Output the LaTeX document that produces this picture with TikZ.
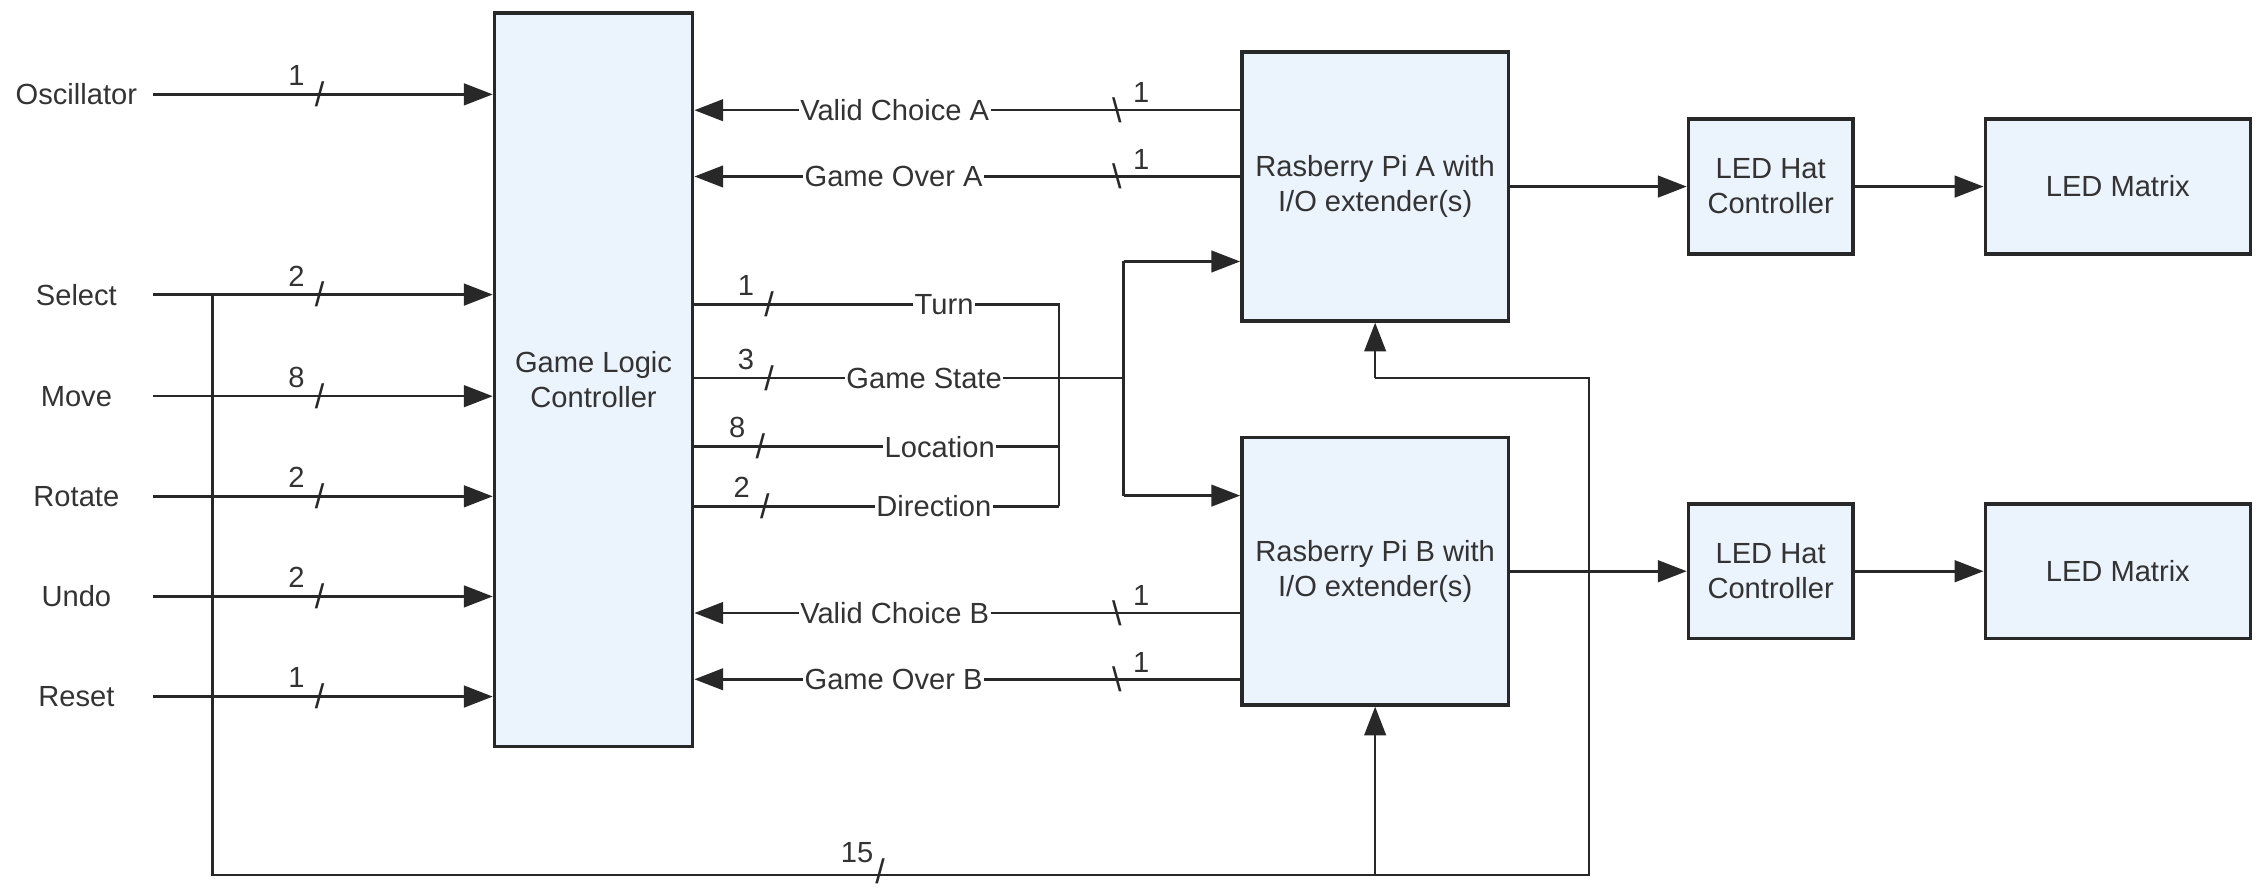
\documentclass[tikz,border=0pt]{standalone}
\usepackage{fontspec}
\setmainfont{Liberation Sans}
\usepackage{tikz}
\usetikzlibrary{
    arrows.meta,
    positioning,
    calc
}
\usepackage{xcolor}
\definecolor{boxfill}{RGB}{235,243,252}
\definecolor{wire}{RGB}{40,40,40}
\definecolor{inkgray}{RGB}{51,51,51}
\newcommand{\lblfont}{\fontsize{11.5}{13.8}\selectfont}
\newcommand{\slfont}{\fontsize{13.5}{14}\selectfont}

\begin{document}
\begin{tikzpicture}[
    x=1cm, y=1cm,
    box/.style={
        rectangle, draw=wire, line width=1.4pt, fill=boxfill,
        text=inkgray, align=center, font=\lblfont, inner sep=2pt
    },
    inlbl/.style={minimum width=2.12cm, inner sep=0pt, text=inkgray, font=\lblfont},
    sig/.style={fill=white, inner sep=0.6pt, text=inkgray, font=\lblfont},
    busw/.style={inner sep=0pt, text=wire, font=\slfont,
        label={[inner sep=0pt, text=inkgray, font=\lblfont, xshift=-0.32cm, yshift=0.26cm]center:#1}},
    busr/.style={inner sep=0pt, text=wire, font=\slfont,
        label={[inner sep=0pt, text=inkgray, font=\lblfont, xshift=0.34cm, yshift=0.24cm]center:#1}},
    link/.style={line width=1pt, draw=wire},
    arrow/.style={link, -{Triangle[length=0.4cm, width=0.3cm]}}
]
\useasboundingbox (0,0) rectangle (31.36,12.32);

% Controller and Pi boards
\node[box, minimum width=2.75cm, minimum height=10.18cm] (glc) at (8.24, 7.05) {Game Logic\\Controller};
\node[box, minimum width=3.70cm, minimum height=3.73cm] (rpia) at (19.09, 9.73) {Rasberry Pi A with\\I/O extender(s)};
\node[box, minimum width=3.70cm, minimum height=3.71cm] (rpib) at (19.09, 4.39) {Rasberry Pi B with\\I/O extender(s)};

% LED chains
\node[box, minimum width=2.28cm, minimum height=1.87cm] (hata) at (24.58, 9.73) {LED Hat\\Controller};
\node[box, minimum width=3.68cm, minimum height=1.87cm] (mata) at (29.40, 9.73) {LED Matrix};
\node[box, minimum width=2.28cm, minimum height=1.87cm] (hatb) at (24.58, 4.39) {LED Hat\\Controller};
\node[box, minimum width=3.68cm, minimum height=1.87cm] (matb) at (29.40, 4.39) {LED Matrix};

% Inputs
\node[inlbl] (osc) at (1.06, 11.01) {Oscillator};
\node[inlbl] (sel) at (1.06, 8.23) {Select};
\node[inlbl] (mov) at (1.06, 6.82) {Move};
\node[inlbl] (rot) at (1.06, 5.43) {Rotate};
\node[inlbl] (und) at (1.06, 4.04) {Undo};
\node[inlbl] (rst) at (1.06, 2.65) {Reset};

% Input arrows
\draw[arrow] (osc.east) -- node[busw=1, pos=0.49] {/} (glc.west |- osc.east);
\draw[arrow] (sel.east) -- node[busw=2, pos=0.49] {/} (glc.west |- sel.east);
\draw[arrow] (mov.east) -- node[busw=8, pos=0.49] {/} (glc.west |- mov.east);
\draw[arrow] (rot.east) -- node[busw=2, pos=0.49] {/} (glc.west |- rot.east);
\draw[arrow] (und.east) -- node[busw=2, pos=0.49] {/} (glc.west |- und.east);
\draw[arrow] (rst.east) -- node[busw=1, pos=0.49] {/} (glc.west |- rst.east);

% Game outputs to both Pis
\coordinate (turn) at (14.70, 8.09);
\coordinate (loc)  at (14.70, 6.12);
\coordinate (dir)  at (14.70, 5.29);
\coordinate (gs)   at (15.60, 7.07);
\coordinate (ina)  at (15.60, 8.69);
\coordinate (inb)  at (15.60, 5.44);

\draw[link] (glc.east |- turn) -- node[busw=1, pos=0.205] {/} node[sig, pos=0.685] {Turn} (turn) -- (dir);
\draw[link] (glc.east |- gs) -- node[busw=3, pos=0.174] {/} node[sig, pos=0.535] {Game State} (gs);
\draw[link] (glc.east |- loc) -- node[busw=8, pos=0.181] {/} node[sig, pos=0.673] {Location} (loc);
\draw[link] (glc.east |- dir) -- node[busw=2, pos=0.193] {/} node[sig, pos=0.657] {Direction} (dir);
\draw[link] (ina) -- (inb);
\draw[arrow] (ina) -- (rpia.west |- ina);
\draw[arrow] (inb) -- (rpib.west |- inb);

% Feedback from the Pis
\coordinate (vca) at (12, 10.79);
\coordinate (goa) at (12, 9.87);
\coordinate (vcb) at (12, 3.81);
\coordinate (gob) at (12, 2.89);

\draw[arrow] (rpia.west |- vca) -- node[busr=1, pos=0.226] {\textbackslash} node[sig, pos=0.633] {Valid Choice A} (glc.east |- vca);
\draw[arrow] (rpia.west |- goa) -- node[busr=1, pos=0.226] {\textbackslash} node[sig, pos=0.635] {Game Over A} (glc.east |- goa);
\draw[arrow] (rpib.west |- vcb) -- node[busr=1, pos=0.226] {\textbackslash} node[sig, pos=0.633] {Valid Choice B} (glc.east |- vcb);
\draw[arrow] (rpib.west |- gob) -- node[busr=1, pos=0.226] {\textbackslash} node[sig, pos=0.635] {Game Over B} (glc.east |- gob);

% Pis to LED chains
\draw[arrow] (rpia.east) -- (hata.west);
\draw[arrow] (hata.east) -- (mata.west);
\draw[arrow] (rpib.east) -- (hatb.west);
\draw[arrow] (hatb.east) -- (matb.west);

% 15-bit bus from the inputs
\coordinate (bsel) at (2.95, 8.23);
\coordinate (bbl)  at (2.95, 0.17);
\coordinate (bbr)  at (22.06, 0.17);
\coordinate (btr)  at (22.06, 7.07);

\draw[link] (bsel) -- (bbl) -- node[busw=15, pos=0.485, yshift=0.06cm] {/} (bbr) -- (btr) -- (rpia.south |- btr);
\draw[arrow] (rpia.south |- btr) -- (rpia.south);
\draw[arrow] (rpib.south |- bbl) -- (rpib.south);

\end{tikzpicture}
\end{document}
